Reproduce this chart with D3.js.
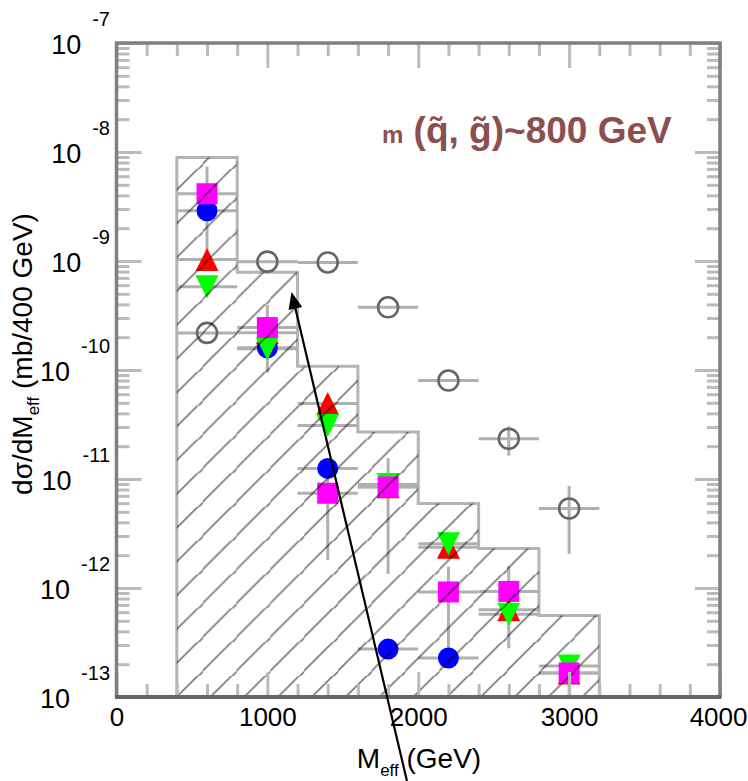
<!DOCTYPE html>
<html>
<head>
<meta charset="utf-8">
<script src="https://cdn.jsdelivr.net/npm/d3@7"></script>
<style>
  html, body { margin: 0; padding: 0; background: #fff; }
  svg { display: block; font-family: "Liberation Sans", Arial, Helvetica, sans-serif; }
</style>
</head>
<body>
<svg id="chart" width="748" height="781"></svg>
<script>
// Effective-mass bins (GeV): centres and histogram edges
const massCenters = [600, 1000, 1400, 1800, 2200, 2600, 3000];
const binEdges = [400, 800, 1200, 1600, 2000, 2400, 2800, 3200];
const binHalfWidth = 200;

// Hatched histogram heights, dσ/dM_eff (mb/400 GeV)
const histHeights = [8.9e-9, 7.9e-10, 1.08e-10, 2.7e-11, 5.95e-12, 2.3e-12, 5.6e-13];

// Point series (null = off scale)
const openCircle    = [2.19e-10, 9.86e-10, 9.7e-10, 3.76e-10, 8.0e-11, 2.34e-11, 5.36e-12];
const openCircleErr = [0, 0, 0, 0, 0, 0.7e-11, 3.3e-12];
const blueCircle    = [2.89e-9, 1.6e-10, 1.25e-11, 2.75e-13, 2.28e-13, null, null];
const redUp         = [1.03e-9, 2.2e-10, 4.93e-11, 8.5e-12, 2.37e-12, 6.3e-13, 1.66e-13];
const greenDown     = [5.8e-10, 1.57e-10, 3.1e-11, 8.9e-12, 2.55e-12, 5.75e-13, 1.92e-13];
const magentaSquare = [4.14e-9, 2.45e-10, 7.4e-12, 8.45e-12, 9.2e-13, 9.3e-13, 1.66e-13];
const magentaErr    = [3.2e-9, 1.5e-10, 5.6e-12, 7.1e-12, 6.5e-13, 6.5e-13, 0.8e-13];

// Axis ticks
const xMajorTicks = [0, 1000, 2000, 3000, 4000];
const xMinorTicks = d3.range(200, 4000, 200).filter(v => v % 1000 !== 0);
const yDecades = [1e-13, 1e-12, 1e-11, 1e-10, 1e-9, 1e-8, 1e-7];
const yMinorTicks = yDecades.slice(0, -1).flatMap(d => d3.range(2, 10).map(k => k * d));

// Annotation arrow (GeV, cross-section)
const arrowFrom = { mass: 1925, value: 1.7e-14 };
const arrowTo   = { mass: 1160, value: 5.2e-10 };

const svg = d3.select("#chart");
const plot = { left: 116.5, right: 720, top: 43, bottom: 697 };

const x = d3.scaleLinear().domain([0, 4000]).range([plot.left, plot.right]);
const y = d3.scaleLog().domain([1e-13, 1e-7]).range([plot.bottom, plot.top]);

const defs = svg.append("defs");
defs.append("clipPath").attr("id", "plotClip")
  .append("rect")
  .attr("x", plot.left).attr("y", plot.top)
  .attr("width", plot.right - plot.left).attr("height", plot.bottom - plot.top);

// diagonal hatch: lines x + y = 33.8k + 28.6
const hp = defs.append("pattern").attr("id", "hatch")
  .attr("patternUnits", "userSpaceOnUse")
  .attr("x", 0).attr("y", 0).attr("width", 33.8).attr("height", 33.8);
hp.append("path")
  .attr("d", "M-6,34.6L34.6,-6M22.6,40.8L40.8,22.6M-6,0.8L0.8,-6")
  .attr("stroke", "#000").attr("stroke-opacity", 0.52).attr("stroke-width", 1.7)
  .attr("fill", "none");

// histogram step outline
const stepPts = [[binEdges[0], 1e-14]];
histHeights.forEach((h, i) => {
  stepPts.push([binEdges[i], h]);
  stepPts.push([binEdges[i + 1], h]);
});
stepPts.push([binEdges[binEdges.length - 1], 1e-14]);
const stepLine = d3.line().x(d => x(d[0])).y(d => Math.min(y(d[1]), plot.bottom + 4));

const gPlot = svg.append("g").attr("clip-path", "url(#plotClip)");

gPlot.append("path")
  .attr("d", stepLine(stepPts))
  .attr("fill", "none").attr("stroke", "#b4b4b4").attr("stroke-width", 3);

// error bars
const errColor = "#b0b0b0";
function hBars(series) {
  series.forEach((v, i) => {
    if (v == null) return;
    gPlot.append("line")
      .attr("x1", x(massCenters[i] - binHalfWidth)).attr("x2", x(massCenters[i] + binHalfWidth))
      .attr("y1", y(v)).attr("y2", y(v))
      .attr("stroke", errColor).attr("stroke-width", 3);
  });
}
function vBars(series, errs) {
  series.forEach((v, i) => {
    if (v == null || !errs[i]) return;
    const lo = v - errs[i] > 1e-15 ? y(v - errs[i]) : plot.bottom;
    gPlot.append("line")
      .attr("x1", x(massCenters[i])).attr("x2", x(massCenters[i]))
      .attr("y1", y(v + errs[i])).attr("y2", lo)
      .attr("stroke", errColor).attr("stroke-width", 3);
  });
}
[openCircle, blueCircle, redUp, greenDown, magentaSquare].forEach(hBars);
vBars(openCircle, openCircleErr);
vBars(magentaSquare, magentaErr);

// markers
const pts = s => s.map((v, i) => ({ m: massCenters[i], v })).filter(d => d.v != null);

gPlot.selectAll(".open").data(pts(openCircle)).join("circle")
  .attr("cx", d => x(d.m)).attr("cy", d => y(d.v)).attr("r", 10)
  .attr("fill", "none").attr("stroke", "#666").attr("stroke-width", 2.6);

gPlot.selectAll(".blue").data(pts(blueCircle)).join("circle")
  .attr("cx", d => x(d.m)).attr("cy", d => y(d.v)).attr("r", 10.5)
  .attr("fill", "#0000ff");

gPlot.selectAll(".red").data(pts(redUp)).join("path")
  .attr("d", d => { const cx = x(d.m), cy = y(d.v);
    return `M${cx},${cy - 11.5}L${cx + 11.5},${cy + 11.5}L${cx - 11.5},${cy + 11.5}Z`; })
  .attr("fill", "#ff0000");

gPlot.selectAll(".green").data(pts(greenDown)).join("path")
  .attr("d", d => { const cx = x(d.m), cy = y(d.v);
    return `M${cx - 11.5},${cy - 11.5}L${cx + 11.5},${cy - 11.5}L${cx},${cy + 11.5}Z`; })
  .attr("fill", "#00ff00");

gPlot.selectAll(".mag").data(pts(magentaSquare)).join("rect")
  .attr("x", d => x(d.m) - 10.5).attr("y", d => y(d.v) - 10.5)
  .attr("width", 21).attr("height", 21)
  .attr("fill", "#ff00ff");

// hatch fill laid over the histogram region
const areaPts = [[binEdges[0], 1e-14]].concat(stepPts.slice(1, -1)).concat([[binEdges[binEdges.length - 1], 1e-14]]);
gPlot.append("path")
  .attr("d", stepLine(areaPts) + "Z")
  .attr("fill", "url(#hatch)").attr("stroke", "none");

// axes: inward ticks on all four sides
function styleAxis(g) {
  g.select(".domain").remove();
  g.selectAll(".tick line").attr("stroke", "#bbbbbb").attr("stroke-width", 3);
}
svg.append("g").attr("transform", `translate(0,${plot.bottom})`)
  .call(d3.axisBottom(x).tickValues(xMinorTicks).tickSize(-13).tickFormat("")).call(styleAxis);
svg.append("g").attr("transform", `translate(0,${plot.bottom})`)
  .call(d3.axisBottom(x).tickValues(xMajorTicks).tickSize(-25).tickFormat("")).call(styleAxis);
svg.append("g").attr("transform", `translate(0,${plot.top})`)
  .call(d3.axisTop(x).tickValues(xMinorTicks).tickSize(-13).tickFormat("")).call(styleAxis);
svg.append("g").attr("transform", `translate(0,${plot.top})`)
  .call(d3.axisTop(x).tickValues(xMajorTicks).tickSize(-25).tickFormat("")).call(styleAxis);
svg.append("g").attr("transform", `translate(${plot.left},0)`)
  .call(d3.axisLeft(y).tickValues(yMinorTicks).tickSize(-13).tickFormat("")).call(styleAxis);
svg.append("g").attr("transform", `translate(${plot.left},0)`)
  .call(d3.axisLeft(y).tickValues(yDecades).tickSize(-25).tickFormat("")).call(styleAxis);
svg.append("g").attr("transform", `translate(${plot.right},0)`)
  .call(d3.axisRight(y).tickValues(yMinorTicks).tickSize(-13).tickFormat("")).call(styleAxis);
svg.append("g").attr("transform", `translate(${plot.right},0)`)
  .call(d3.axisRight(y).tickValues(yDecades).tickSize(-25).tickFormat("")).call(styleAxis);

// x tick labels
const xLab = svg.append("g").attr("transform", `translate(0,${plot.bottom})`)
  .call(d3.axisBottom(x).tickValues(xMajorTicks).tickSize(0).tickPadding(11).tickFormat(d3.format("d")));
xLab.select(".domain").remove();
xLab.selectAll("text").attr("font-size", 26).attr("font-family", "Liberation Sans, Arial, sans-serif").attr("fill", "#000");
// the last label sits against the right edge
xLab.selectAll(".tick").filter(d => d === 4000).select("text")
  .attr("text-anchor", "end").attr("x", 748 - plot.right - 1);

// frame
svg.append("path")
  .attr("d", `M${plot.left},${plot.bottom}V${plot.top}H${plot.right}V${plot.bottom}`)
  .attr("fill", "none").attr("stroke", "#808080").attr("stroke-width", 3.5);
svg.append("line")
  .attr("x1", plot.left - 1.5).attr("x2", plot.right + 1.5)
  .attr("y1", plot.bottom).attr("y2", plot.bottom)
  .attr("stroke", "#666").attr("stroke-width", 4);

// y decade labels: 10 with raised exponent
yDecades.forEach(d => {
  const yy = y(d);
  const exp = Math.round(Math.log10(d));
  const e = svg.append("text")
    .attr("x", 110).attr("y", yy + 11 - 28)
    .attr("text-anchor", "end").attr("font-size", 20).attr("fill", "#000")
    .text("-" + (-exp));
  const w = e.node().getComputedTextLength();
  svg.append("text")
    .attr("x", 110 - w - 11).attr("y", yy + 11)
    .attr("text-anchor", "end").attr("font-size", 27).attr("fill", "#000")
    .text("10");
});

// y axis title
const yt = svg.append("text")
  .attr("transform", "translate(32,354) rotate(-90)")
  .attr("text-anchor", "middle").attr("font-size", 28).attr("fill", "#000");
yt.append("tspan").text("dσ/dM");
yt.append("tspan").attr("font-size", 17).attr("dy", 7).text("eff");
yt.append("tspan").attr("dy", -7).text(" (mb/400 GeV)");

// x axis title
const xt = svg.append("text")
  .attr("x", 419).attr("y", 768)
  .attr("text-anchor", "middle").attr("font-size", 28).attr("fill", "#000");
xt.append("tspan").text("M");
xt.append("tspan").attr("font-size", 17).attr("dy", 8).text("eff");
xt.append("tspan").attr("dy", -8).text(" (GeV)");

// mass label
const tt = svg.append("text")
  .attr("x", 382).attr("y", 143)
  .attr("font-weight", "bold").attr("font-size", 37).attr("fill", "#8c4f4f");
tt.append("tspan").attr("font-size", 24).text("m");
tt.append("tspan").text(" (q\u0303, g\u0303)~800 GeV");

// arrow
const ax1 = x(arrowFrom.mass), ay1 = y(arrowFrom.value);
const ax2 = x(arrowTo.mass), ay2 = y(arrowTo.value);
const ang = Math.atan2(ay2 - ay1, ax2 - ax1);
const headL = 17, headW = 7;
const bx = ax2 - headL * Math.cos(ang), by = ay2 - headL * Math.sin(ang);
svg.append("line")
  .attr("x1", ax1).attr("y1", ay1).attr("x2", bx).attr("y2", by)
  .attr("stroke", "#000").attr("stroke-width", 2.2);
svg.append("path")
  .attr("d", `M${ax2},${ay2}L${bx + headW * Math.sin(ang)},${by - headW * Math.cos(ang)}L${bx - headW * Math.sin(ang)},${by + headW * Math.cos(ang)}Z`)
  .attr("fill", "#000");
</script>
</body>
</html>
